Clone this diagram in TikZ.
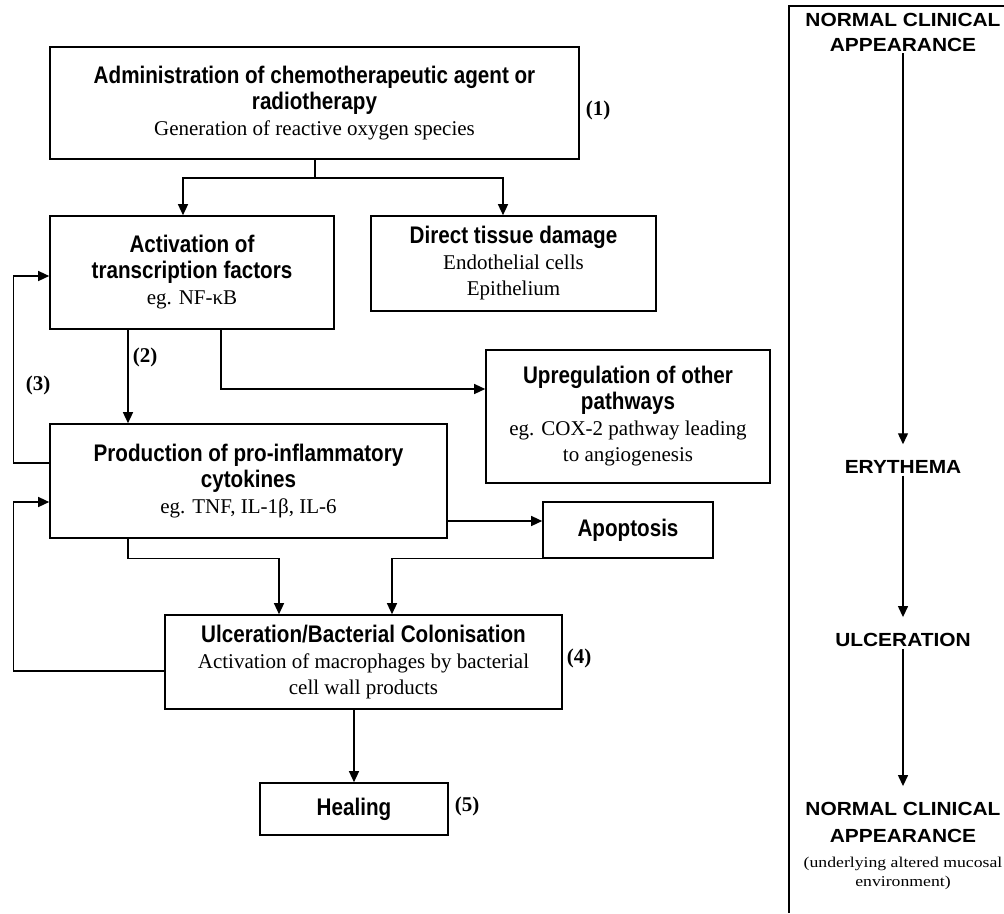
\documentclass[tikz,border=0pt]{standalone}
\usepackage{fontspec}
\setmainfont{Liberation Serif}
\newfontfamily\narrowsans[FakeStretch=0.86]{Liberation Sans}
\newfontfamily\widesans[FakeStretch=1.1]{Liberation Sans}
\newfontfamily\wideserif[FakeStretch=1.18]{Liberation Serif}
\usetikzlibrary{arrows.meta}
\newcommand{\hd}[1]{{\narrowsans\bfseries\fontsize{24}{27}\selectfont #1}}
\newcommand{\stage}[1]{{\widesans\bfseries\fontsize{19}{25}\selectfont #1}}
\begin{document}
\begin{tikzpicture}[x=1pt,y=-1pt]
\tikzstyle{box}=[draw,line width=1.6pt,inner sep=0pt,align=center,font=\fontsize{21}{26}\selectfont]
\tikzstyle{arr}=[line width=1.3pt,-{Triangle[length=11pt,width=10pt]}]
\tikzstyle{num}=[inner sep=0pt,font=\fontsize{21}{24}\selectfont\bfseries]
\tikzstyle{stagetxt}=[inner sep=2pt,align=center,font=\fontsize{19}{25}\selectfont]
\useasboundingbox (0,0) rectangle (1004,913);
\node[box,minimum width=529pt,minimum height=112pt] (admin) at (314.5,103)
  {\hd{Administration of chemotherapeutic agent or}\\\hd{radiotherapy}\\Generation of reactive oxygen species};
\node[box,minimum width=284pt,minimum height=113pt] (act) at (192,272.5)
  {\hd{Activation of}\\\hd{transcription factors}\\eg. NF-\symbol{"03BA}B};
\node[box,minimum width=285pt,minimum height=95pt] (dtd) at (513.5,263.5)
  {\hd{Direct tissue damage}\\Endothelial cells\\Epithelium};
\node[box,minimum width=284pt,minimum height=133pt] (upr) at (628,416.5)
  {\hd{Upregulation of other}\\\hd{pathways}\\eg. COX-2 pathway leading\\to angiogenesis};
\node[box,minimum width=397pt,minimum height=114pt] (prod) at (248.5,481)
  {\hd{Production of pro-inflammatory}\\\hd{cytokines}\\eg. TNF, IL-1\symbol{"03B2}, IL-6};
\node[box,minimum width=170pt,minimum height=56pt] (apop) at (628,530) {\hd{Apoptosis}};
\node[box,minimum width=397pt,minimum height=94pt] (ulc) at (363.5,662)
  {\hd{Ulceration/Bacterial Colonisation}\\Activation of macrophages by bacterial\\cell wall products};
\node[box,minimum width=188pt,minimum height=52pt] (heal) at (354,809) {\hd{Healing}};
\node[num] (l1) at (598,110) {(1)};
\node[num] (l2) at (145,357) {(2)};
\node[num] (l3) at (38,385) {(3)};
\node[num] (l4) at (579,658) {(4)};
\node[num] (l5) at (467,806) {(5)};
\coordinate (split) at (315,178);
\draw[line width=1.3pt] (admin.south -| split) -- (split);
\draw[arr] (split) -| ([xshift=-9pt]act.north);
\draw[arr] (split) -| ([xshift=-10.5pt]dtd.north);
\draw[arr] ([xshift=-64pt]act.south) -- ([xshift=-64pt]act.south |- prod.north);
\draw[arr] ([xshift=29pt]act.south) |- ([yshift=27.5pt]upr.west);
\draw[arr] ([yshift=18pt]prod.west) -- ++(-36,0) |- ([yshift=-3.5pt]act.west);
\draw[arr] ([yshift=-9pt]ulc.west) -- ++(-151,0) |- ([yshift=-21pt]prod.west);
\draw[arr] ([xshift=-120.5pt]prod.south) -- ++(0,20) -| ([xshift=-84.5pt]ulc.north);
\draw[arr] ([yshift=-40pt]prod.east) -- ([yshift=-40pt]prod.east -| apop.west);
\draw[arr] (apop.south west) -| ([xshift=28.5pt]ulc.north);
\draw[arr] (heal.north |- ulc.south) -- (heal.north);
\draw[line width=1.6pt] (1004,6) -- (789,6) -- (789,913);
\node[stagetxt] (s1) at (903,32) {\stage{NORMAL CLINICAL}\\\stage{APPEARANCE}};
\node[stagetxt] (s2) at (903,467) {\stage{ERYTHEMA}};
\node[stagetxt] (s3) at (903,640) {\stage{ULCERATION}};
\node[stagetxt,font=\wideserif\fontsize{15}{19}\selectfont] (s4) at (903,846)
  {\stage{NORMAL CLINICAL}\\[8pt]\stage{APPEARANCE}\\[6pt](underlying altered mucosal\\environment)};
\draw[arr,shorten >=14pt] (s1.south) -- (s2.north);
\draw[arr,shorten >=14pt] (s2.south) -- (s3.north);
\draw[arr,shorten >=14pt] (s3.south) -- (s4.north);
\end{tikzpicture}
\end{document}
